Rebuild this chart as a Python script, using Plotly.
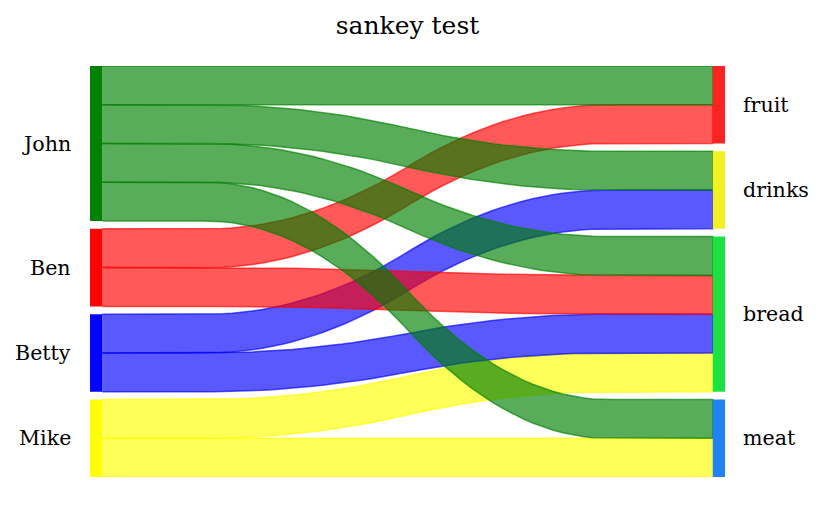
import numpy as np
import plotly.graph_objects as go

# ---- data ----
left_labels = ["John", "Ben", "Betty", "Mike"]          # top to bottom
right_labels = ["fruit", "drinks", "bread", "meat"]     # top to bottom
sources = ["John", "John", "John", "John", "Ben", "Ben", "Betty", "Betty", "Mike", "Mike"]
targets = ["fruit", "drinks", "bread", "meat", "fruit", "bread", "drinks", "bread", "bread", "meat"]
weights = [1, 1, 1, 1, 1, 1, 1, 1, 1, 1]

left_colors = {"John": (0, 128, 0), "Ben": (255, 0, 0), "Betty": (0, 0, 255), "Mike": (255, 255, 0)}
right_colors = {"fruit": (252, 32, 32), "drinks": (242, 242, 32), "bread": (24, 226, 64), "meat": (32, 128, 246)}

FONT = "DejaVu Serif"
ALPHA = 0.65

# ---- layout computation (pySankey style, bottom-up) ----
total = float(sum(weights))
gap = 0.02 * total
left_bu = left_labels[::-1]
right_bu = right_labels[::-1]


def stack(labels, key_list):
    pos = {}
    prev_top = None
    for lab in labels:
        w = sum(wt for k, wt in zip(key_list, weights) if k == lab)
        bottom = 0.0 if prev_top is None else prev_top + gap
        pos[lab] = [bottom, bottom + w]
        prev_top = bottom + w
    return pos


lpos = stack(left_bu, sources)
rpos = stack(right_bu, targets)
ymax = max(v[1] for v in lpos.values())
lcur = {k: v[0] for k, v in lpos.items()}
rcur = {k: v[0] for k, v in rpos.items()}


def curve(a, b):
    ys = np.array(50 * [a] + 50 * [b], dtype=float)
    ys = np.convolve(ys, 0.05 * np.ones(20), mode="valid")
    ys = np.convolve(ys, 0.05 * np.ones(20), mode="valid")
    return ys


def rgba(c, a):
    return "rgba(%d,%d,%d,%s)" % (c[0], c[1], c[2], a)


fig = go.Figure()

for ll in left_bu:
    for rl in right_bu:
        w = sum(wt for s, t, wt in zip(sources, targets, weights) if s == ll and t == rl)
        if w <= 0:
            continue
        yd = curve(lcur[ll], rcur[rl])
        yu = curve(lcur[ll] + w, rcur[rl] + w)
        lcur[ll] += w
        rcur[rl] += w
        xs = np.linspace(0, 1, len(yd))
        col = rgba(left_colors[ll], ALPHA)
        fig.add_trace(go.Scatter(
            x=np.concatenate([xs, xs[::-1]]),
            y=np.concatenate([yu, yd[::-1]]),
            fill="toself", fillcolor=col, mode="lines",
            line=dict(color=col, width=1.5), hoverinfo="skip", showlegend=False))

bar_w = 0.02
xmin, xmax = -bar_w, 1 + bar_w


def xpaper(x):
    return (x - xmin) / (xmax - xmin)


for lab, (b, t) in lpos.items():
    fig.add_trace(go.Scatter(
        x=[-bar_w, 0, 0, -bar_w, -bar_w], y=[b, b, t, t, b], fill="toself",
        fillcolor=rgba(left_colors[lab], 0.99), mode="lines", line=dict(width=0),
        hoverinfo="skip", showlegend=False))
    fig.add_annotation(x=xpaper(-0.0485), xref="paper", y=(b + t) / 2, yref="y", text=lab,
                       showarrow=False, xanchor="right", yanchor="middle",
                       font=dict(family=FONT, size=20.6, color="black"))
for lab, (b, t) in rpos.items():
    fig.add_trace(go.Scatter(
        x=[1, 1 + bar_w, 1 + bar_w, 1, 1], y=[b, b, t, t, b], fill="toself",
        fillcolor=rgba(right_colors[lab], 0.99), mode="lines", line=dict(width=0),
        hoverinfo="skip", showlegend=False))
    fig.add_annotation(x=xpaper(1.046), xref="paper", y=(b + t) / 2, yref="y", text=lab,
                       showarrow=False, xanchor="left", yanchor="middle",
                       font=dict(family=FONT, size=20.6, color="black"))

fig.update_layout(
    width=823, height=513,
    margin=dict(l=90, r=98, t=66, b=36),
    paper_bgcolor="white", plot_bgcolor="white",
    title=dict(text="sankey test", x=0.5, xref="paper", xanchor="center", y=0.95, yanchor="middle",
               font=dict(family=FONT, size=25, color="black")),
    xaxis=dict(visible=False, range=[xmin, xmax], fixedrange=True),
    yaxis=dict(visible=False, range=[0, ymax], fixedrange=True),
)

fig.write_html("out.html")
